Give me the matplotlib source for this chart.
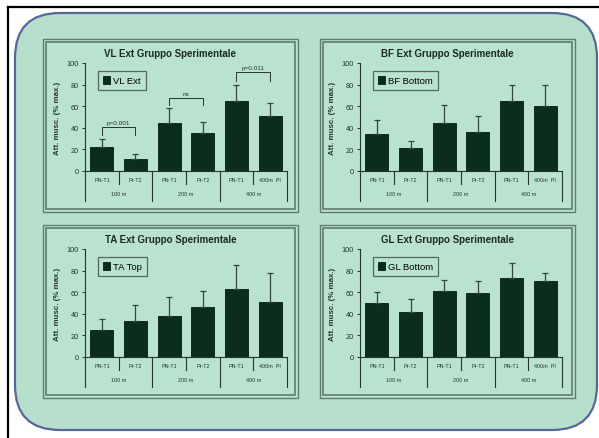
"""
Four-panel EMG bar chart (Gruppo Sperimentale) on a rounded green card.
"""
import matplotlib.pyplot as plt
from matplotlib.patches import FancyBboxPatch, Rectangle

plt.rcParams["font.family"] = ["Liberation Sans", "DejaVu Sans"]

# -----------------------------------------------------------------------------
# Data
# -----------------------------------------------------------------------------
bar_labels = ["PN-T1", "Pr-T2", "PN-T1", "Pr-T2", "PN-T1", "400m  PI"]
group_labels = ["100 m", "200 m", "400 m"]

vl_mean = [22, 11, 44, 35, 65, 51]
vl_err = [8, 5, 14, 10, 15, 12]
bf_mean = [34, 21, 44, 36, 65, 60]
bf_err = [13, 7, 17, 15, 15, 20]
ta_mean = [25, 33, 38, 46, 63, 51]
ta_err = [10, 15, 18, 15, 22, 27]
gl_mean = [50, 42, 61, 59, 73, 70]
gl_err = [10, 12, 10, 11, 14, 8]

# VL significance brackets: (bar a, bar b, bracket level, leg bottom, text)
vl_brackets = [(0, 1, 41, 33, "p=0.001"), (2, 3, 68, 61, "ns"), (4, 5, 92, 83, "p=0.011")]

panels = [
    ("VL Ext Gruppo Sperimentale", "VL Ext", vl_mean, vl_err, 0, 0),
    ("BF Ext Gruppo Sperimentale", "BF Bottom", bf_mean, bf_err, 1, 0),
    ("TA Ext Gruppo Sperimentale", "TA Top", ta_mean, ta_err, 0, 1),
    ("GL Ext Gruppo Sperimentale", "GL Bottom", gl_mean, gl_err, 1, 1),
]

# -----------------------------------------------------------------------------
# Layout (pixels)
# -----------------------------------------------------------------------------
W, H = 599, 439
BG = "#b6e0cc"
PANEL = "#b9e2cf"
BAR = "#0b2e1c"
EDGE = "#5f7d6d"
INK = "#26362c"
DX, DY = 275, 186  # offset between panel columns / rows

fig = plt.figure(figsize=(W / 100, H / 100), dpi=100, facecolor="white")
bg = fig.add_axes([0, 0, 1, 1])
bg.set_xlim(0, W)
bg.set_ylim(H, 0)
bg.axis("off")

# black outer frame lines
bg.plot([8, W], [8, 8], color="black", lw=1.6)
bg.plot([8, 8], [8, H], color="black", lw=1.6)

# rounded card
card = FancyBboxPatch((15, 14), 582, 417, boxstyle="round,pad=0,rounding_size=45",
                      facecolor=BG, edgecolor="#56679a", lw=1.6)
bg.add_patch(card)


def px_rect(x0, y0, x1, y1):
    return [x0 / W, 1 - y1 / H, (x1 - x0) / W, (y1 - y0) / H]


for title, leg, mean, err, col, row in panels:
    ox, oy = col * DX, row * DY
    px0, px1 = 43 + ox + (2 if col else 0), 298 + ox + (2 if col else 0)
    py0, py1 = 40 + oy, 213 + oy

    # double panel border
    bg.add_patch(Rectangle((px0, py0), px1 - px0, py1 - py0, facecolor=PANEL,
                           edgecolor=EDGE, lw=1))
    bg.add_patch(Rectangle((px0 + 3, py0 + 3), px1 - px0 - 6, py1 - py0 - 6,
                           fill=False, edgecolor=EDGE, lw=1.2))
    bg.text((px0 + px1) / 2, 54 + oy, title, ha="center", va="center",
            fontsize=7, fontweight="bold", color="#1c2b22")

    ax = fig.add_axes(px_rect(85 + ox, 64 + oy, 287 + ox, 172 + oy))
    ax.patch.set_alpha(0)
    x = list(range(len(mean)))
    bars = ax.bar(x, mean, width=0.68, color=BAR, edgecolor="#061a10", lw=0.6, label=leg)
    ax.errorbar(x, mean, yerr=[[0] * len(err), err], fmt="none", ecolor="#33463a",
                elinewidth=0.9, capsize=2, capthick=0.9)
    ax.set_xlim(-0.5, len(mean) - 0.5)
    ax.set_ylim(0, 100)
    ax.set_yticks(range(0, 101, 20))
    ax.tick_params(axis="y", labelsize=5.3, length=2.5, width=0.7, pad=2, colors=INK)
    ax.set_xticks([])
    for s in ("top", "right"):
        ax.spines[s].set_visible(False)
    for s in ("left", "bottom"):
        ax.spines[s].set_color(INK)
        ax.spines[s].set_linewidth(0.8)
    ax.set_ylabel("Att. musc. (% max.)", fontsize=5.7, fontweight="bold", color=INK,
                  labelpad=4)

    # multi-level category axis
    trans = ax.get_xaxis_transform()
    for i in range(len(mean) + 1):
        y_end = -0.28 if i % 2 == 0 else -0.12
        ax.plot([i - 0.5, i - 0.5], [0, y_end], transform=trans, clip_on=False,
                color=INK, lw=0.8)
    for i, lab in enumerate(bar_labels):
        ax.text(i, -0.075, lab, transform=trans, ha="center", va="center",
                fontsize=3.9, color=INK)
    for g, lab in enumerate(group_labels):
        ax.text(2 * g + 0.5, -0.21, lab, transform=trans, ha="center", va="center",
                fontsize=3.9, color=INK)

    lg = ax.legend(handles=[bars], loc="upper left", bbox_to_anchor=(0.065, 0.93),
                   borderaxespad=0, fontsize=6.8, fancybox=False, handlelength=0.7,
                   handleheight=0.9, handletextpad=0.3, borderpad=0.55)
    lg.get_frame().set_facecolor(PANEL)
    lg.get_frame().set_edgecolor("#3b4a40")
    lg.get_frame().set_linewidth(0.9)

    if title.startswith("VL"):
        for a, b, lvl, low, txt in vl_brackets:
            ax.plot([a, a, b, b], [low, lvl, lvl, low], color=INK, lw=0.7)
            ax.text((a + b) / 2, lvl + 1.5, txt, ha="center", va="bottom",
                    fontsize=4.6, color=INK)

fig.savefig("out.png", dpi=100, facecolor="white")
